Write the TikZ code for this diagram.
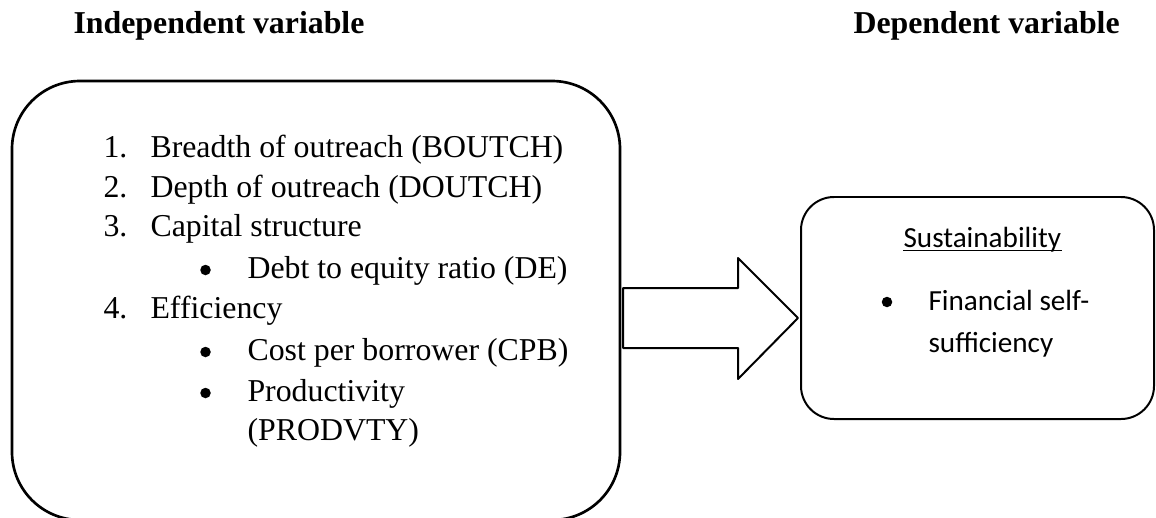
\documentclass[tikz,border=0pt,12pt]{standalone}
\usepackage{fontspec}
\setmainfont{Liberation Serif}
\newfontfamily\calibri{Carlito}
\begin{document}
\begin{tikzpicture}[x=0.377pt, y=-0.377pt, line join=round,
	box/.style={draw, rounded corners=#1, inner sep=0},
	txt/.style={anchor=base west, inner sep=0},
	bul/.style={circle, fill, inner sep=0, minimum size=10.5*0.377pt},
	sans/.style={txt, font=\calibri\fontsize{11}{13}\selectfont}]
	\useasboundingbox (0,0) rectangle (1156,517);
	\node[txt, font=\bfseries] (indep) at (73,33) {Independent variable};
	\node[txt, font=\bfseries] (dep) at (853,33) {Dependent variable};
	\node[box=68*0.377pt, line width=1pt, minimum width=608*0.377pt, minimum height=439*0.377pt] (left) at (316,300.5) {};
	\node[box=33*0.377pt, line width=0.75pt, minimum width=353*0.377pt, minimum height=222*0.377pt] (right) at (977.5,308) {};
	\path 
	(623,318) coordinate (tail)
	(798,318) coordinate (tip)
	;
	\foreach \n/\t/\y in {1/Breadth of outreach (BOUTCH)/157, 2/Depth of outreach (DOUTCH)/197, 3/Capital structure/236, 4/Efficiency/318}{
		\node[txt] (num\n) at (103,\y) {\n.};
		\node[txt] (item\n) at (150,\y) {\t};
	}
	\foreach \n/\t/\y in {1/Debt to equity ratio (DE)/278, 2/Cost per borrower (CPB)/360, 3/Productivity/401}{
		\node[bul] (dot\n) at (205.5,\y-8) {};
		\node[txt] (sub\n) at (247,\y) {\t};
	}
	\node[txt] (prod) at (247,440) {(PRODVTY)};
	% dependent side
	\node[sans] (sust) at (903,247) {Sustainability};
	\draw[line width=0.4pt] ([yshift=-1.2pt]sust.base west) -- ([yshift=-1.2pt]sust.base east);
	\node[bul] (dot4) at (887,302) {};
	\node[sans] (fin) at (928,310) {Financial self-};
	\node[sans] (suff) at (928,352) {sufficiency};
	% block arrow
	\draw[line width=0.75pt] (tail) ++(0,-30) -| ++(115,-30) -- (tip) -- ++(-60,61) |- ++(-115,-31) -- cycle;
\end{tikzpicture}
\end{document}
